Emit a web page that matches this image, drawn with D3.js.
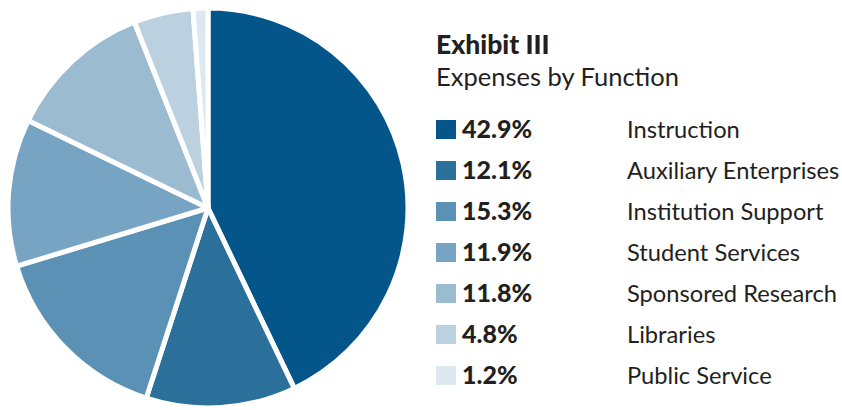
<!DOCTYPE html>
<html><head><meta charset="utf-8">
<script src="https://cdn.jsdelivr.net/npm/d3@7"></script>
<style>html,body{margin:0;padding:0;background:#fff;}svg{display:block;}</style>
</head><body>
<svg id="chart" width="842" height="410"></svg>
<script>
const categories = ["Instruction","Auxiliary Enterprises","Institution Support","Student Services","Sponsored Research","Libraries","Public Service"];
const values = [42.9, 12.1, 15.3, 11.9, 11.8, 4.8, 1.2];
const colors = ["#04568a","#2a709b","#5a91b4","#76a4c2","#9bbbd1","#bcd1e0","#dde8f0"];
const title = "Exhibit III";
const subtitle = "Expenses by Function";

const data = categories.map((c,i)=>({cat:c, value:values[i], color:colors[i]}));
const svg = d3.select("#chart");
const cx = 208, cy = 208, R = 200;
const pie = d3.pie().sort(null).value(d=>d.value);
const arc = d3.arc().innerRadius(0).outerRadius(R);
svg.append("g").attr("transform",`translate(${cx},${cy})`)
  .selectAll("path").data(pie(data)).join("path")
  .attr("d",arc).attr("fill",d=>d.data.color)
  .attr("stroke","#fff").attr("stroke-width",5).attr("stroke-linejoin","round");

const font = "Lato, 'Open Sans', sans-serif";
svg.append("text").attr("x",436).attr("y",54).text(title)
  .attr("font-family",font).attr("font-weight",900).attr("font-size",26.5).attr("fill","#231f20");
svg.append("text").attr("x",436).attr("y",86).text(subtitle)
  .attr("font-family",font).attr("font-weight",400).attr("font-size",25.5).attr("fill","#231f20");

const y = d3.scalePoint().domain(categories).range([130,376]);
const rows = svg.append("g").selectAll("g").data(data).join("g")
  .attr("transform",d=>`translate(0,${y(d.cat)})`);
rows.append("rect").attr("x",436).attr("y",-10).attr("width",20).attr("height",19).attr("fill",d=>d.color);
rows.append("text").attr("x",462).attr("y",8).text(d=>d3.format(".1f")(d.value)+"%")
  .attr("font-family",font).attr("font-weight",900).attr("font-size",25).attr("fill","#231f20");
rows.append("text").attr("x",627).attr("y",8).text(d=>d.cat)
  .attr("font-family",font).attr("font-weight",400).attr("font-size",23.7).attr("fill","#231f20");
</script>
</body></html>
